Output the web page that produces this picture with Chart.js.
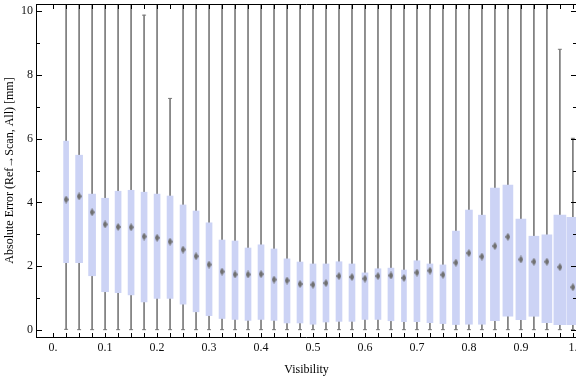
<!DOCTYPE html>
<html>
<head>
<meta charset="utf-8">
<script src="https://cdn.jsdelivr.net/npm/chart.js@4.4.1/dist/chart.umd.min.js"></script>
<style>
  html, body { margin: 0; padding: 0; background: #fff; }
  #wrap { width: 576px; height: 377px; }
</style>
</head>
<body>
<div id="wrap"><canvas id="chart"></canvas></div>
<script>
// box centres on the visibility axis
const visibility = [
  0.025, 0.05, 0.075, 0.1, 0.125, 0.15, 0.175, 0.2, 0.225, 0.25,
  0.275, 0.3, 0.325, 0.35, 0.375, 0.4, 0.425, 0.45, 0.475, 0.5,
  0.525, 0.55, 0.575, 0.6, 0.625, 0.65, 0.675, 0.7, 0.725, 0.75,
  0.775, 0.8, 0.825, 0.85, 0.875, 0.9, 0.925, 0.95, 0.975, 1.0
];
const whiskerLow = [
  0.02, 0.01, 0.01, 0.01, 0.01, 0.01, 0.01, 0.01, 0.01, 0.01,
  0.01, 0.01, 0.01, 0.01, 0.01, 0.01, 0.01, 0.01, 0.01, 0.01,
  0.01, 0.01, 0.01, 0.01, 0.01, 0.01, 0.01, 0.01, 0.01, 0.01,
  0.01, 0.01, 0.01, 0.01, 0.01, 0.01, 0.01, 0.01, 0.01, 0.01
];
const quartile1 = [
  2.11, 2.11, 1.70, 1.20, 1.17, 1.10, 0.88, 0.99, 0.99, 0.81,
  0.57, 0.45, 0.36, 0.33, 0.30, 0.33, 0.30, 0.22, 0.22, 0.18,
  0.25, 0.27, 0.27, 0.33, 0.33, 0.29, 0.26, 0.26, 0.23, 0.20,
  0.17, 0.18, 0.18, 0.29, 0.43, 0.32, 0.43, 0.23, 0.17, 0.17
];
const medians = [
  4.09, 4.19, 3.69, 3.31, 3.23, 3.22, 2.93, 2.89, 2.77, 2.52,
  2.31, 2.05, 1.83, 1.74, 1.74, 1.75, 1.58, 1.55, 1.44, 1.42,
  1.47, 1.69, 1.66, 1.61, 1.69, 1.71, 1.63, 1.80, 1.86, 1.73,
  2.11, 2.41, 2.30, 2.63, 2.92, 2.21, 2.14, 2.14, 1.97, 1.34
];
const quartile3 = [
  5.92, 5.48, 4.26, 4.13, 4.35, 4.38, 4.32, 4.26, 4.20, 3.92,
  3.73, 3.36, 2.82, 2.79, 2.57, 2.67, 2.54, 2.23, 2.13, 2.07,
  2.07, 2.14, 2.07, 1.79, 1.92, 1.94, 1.88, 2.17, 2.07, 2.04,
  3.10, 3.76, 3.60, 4.45, 4.54, 3.48, 2.94, 2.98, 3.60, 3.53
];
const whiskerHigh = [
  12, 12, 12, 12, 12, 12, 9.87, 12, 7.26, 12,
  12, 12, 12, 12, 12, 12, 12, 12, 12, 12,
  12, 12, 12, 12, 12, 12, 12, 12, 12, 12,
  12, 12, 12, 12, 12, 12, 12, 12, 8.80, 6.01
];
const xTickLabels = ['0.', '0.1', '0.2', '0.3', '0.4', '0.5', '0.6', '0.7', '0.8', '0.9', '1.'];
const yTickLabels = ['0', '2', '4', '6', '8', '10'];

// styling
const boxWidths = [
  5, 7, 7, 7, 6, 6, 6, 6, 6, 6,
  6, 6, 6, 6, 6, 6, 6, 6, 6, 6,
  6, 6, 6, 6, 6, 6, 5, 6, 6, 6,
  7, 7, 7, 9, 10, 10, 10, 10, 12, 12
];
const boxColor = '#ccd3f5';
const whiskerColor = '#7a7a7a';
const serif = "'Liberation Serif', 'DejaVu Serif', serif";

// elongated diamond marker for the medians
const diamond = document.createElement('canvas');
diamond.width = 5;
diamond.height = 8;
const dctx = diamond.getContext('2d');
dctx.fillStyle = '#707070';
dctx.beginPath();
dctx.moveTo(2.5, 0);
dctx.lineTo(5, 4);
dctx.lineTo(2.5, 8);
dctx.lineTo(0, 4);
dctx.closePath();
dctx.fill();

// x ticks every 0.025, y ticks every 0.5
const xTickValues = [];
for (let i = 0; i <= 40; i++) xTickValues.push(i / 40);
const yTickValues = [];
for (let i = 0; i <= 20; i++) yTickValues.push(i / 2);

const boxSets = [...new Set(boxWidths)].map(w => ({
  type: 'bar',
  data: visibility
    .map((v, i) => boxWidths[i] === w ? { x: v, y: [quartile1[i], quartile3[i]] } : null)
    .filter(Boolean),
  backgroundColor: boxColor,
  barThickness: w,
  grouped: false,
  order: 2
}));

// inward Mathematica style frame ticks
const framePlugin = {
  id: 'frame',
  afterDatasetsDraw(chart) {
    const { ctx, chartArea: a, scales: { x, y } } = chart;
    ctx.save();
    ctx.strokeStyle = '#000';
    ctx.lineWidth = 1;
    ctx.beginPath();
    ctx.moveTo(a.left - 0.5, a.top + 0.5);
    ctx.lineTo(a.right + 0.5, a.top + 0.5);
    ctx.moveTo(a.left - 0.5, a.top);
    ctx.lineTo(a.left - 0.5, a.bottom + 1);
    ctx.moveTo(a.left - 1, a.bottom + 0.5);
    ctx.lineTo(a.right + 1, a.bottom + 0.5);
    x.ticks.forEach(t => {
      const px = Math.round(x.getPixelForValue(t.value)) + 0.5;
      ctx.moveTo(px, a.bottom);
      ctx.lineTo(px, a.bottom - 4);
      ctx.moveTo(px, a.top + 1);
      ctx.lineTo(px, a.top + 5);
    });
    y.ticks.forEach(t => {
      const py = Math.round(y.getPixelForValue(t.value)) + 0.5;
      const len = t.value % 2 === 0 ? 5 : 3;
      ctx.moveTo(a.left, py);
      ctx.lineTo(a.left + len, py);
      ctx.moveTo(a.right, py);
      ctx.lineTo(a.right - len, py);
    });
    ctx.stroke();
    ctx.restore();
  }
};

new Chart(document.getElementById('chart'), {
  type: 'bar',
  data: {
    datasets: [
      {
        type: 'bar',
        data: visibility.map((v, i) => ({ x: v, y: [whiskerLow[i], whiskerHigh[i]] })),
        backgroundColor: whiskerColor,
        barThickness: 1,
        grouped: false,
        order: 3
      },
      ...boxSets,
      {
        type: 'line',
        data: visibility.flatMap((v, i) => [{ x: v, y: whiskerLow[i] }, { x: v, y: whiskerHigh[i] }]),
        showLine: false,
        pointStyle: 'line',
        pointRadius: 2,
        pointBorderColor: whiskerColor,
        pointBorderWidth: 1,
        order: 1
      },
      {
        type: 'line',
        data: visibility.map((v, i) => ({ x: v, y: medians[i] })),
        showLine: false,
        pointStyle: diamond,
        order: 0
      }
    ]
  },
  options: {
    responsive: true,
    maintainAspectRatio: false,
    animation: false,
    layout: { autoPadding: false, padding: { top: 4, right: 0, left: 0, bottom: 0 } },
    plugins: { legend: { display: false }, tooltip: { enabled: false } },
    scales: {
      x: {
        type: 'linear',
        min: -0.031,
        max: 1.006,
        offset: false,
        grid: { display: false, drawTicks: false, offset: false },
        border: { display: false },
        afterBuildTicks: s => { s.ticks = xTickValues.map(v => ({ value: v })); },
        afterFit: s => { s.height = 40; s.paddingLeft = 0; s.paddingRight = 0; },
        ticks: {
          autoSkip: false,
          maxRotation: 0,
          padding: 4,
          color: '#111',
          font: { family: serif, size: 12 },
          callback: (v, i) => i % 4 === 0 ? xTickLabels[i / 4] : ''
        },
        title: {
          display: true,
          text: 'Visibility',
          color: '#000',
          font: { family: serif, size: 12 },
          padding: { top: 0, bottom: 0 }
        }
      },
      y: {
        min: -0.22,
        max: 10.22,
        grid: { display: false, drawTicks: false },
        border: { display: false },
        afterBuildTicks: s => { s.ticks = yTickValues.map(v => ({ value: v })); },
        afterFit: s => { s.width = 37; s.paddingTop = 0; s.paddingBottom = 0; },
        ticks: {
          padding: 4,
          color: '#111',
          font: { family: serif, size: 12 },
          callback: (v, i) => i % 4 === 0 ? yTickLabels[i / 4] : ''
        },
        title: {
          display: true,
          text: 'Absolute Error (Ref→Scan, All) [mm]',
          color: '#000',
          font: { family: serif, size: 12 },
          padding: { top: 3, bottom: 0 }
        }
      }
    }
  },
  plugins: [framePlugin]
});
</script>
</body>
</html>
